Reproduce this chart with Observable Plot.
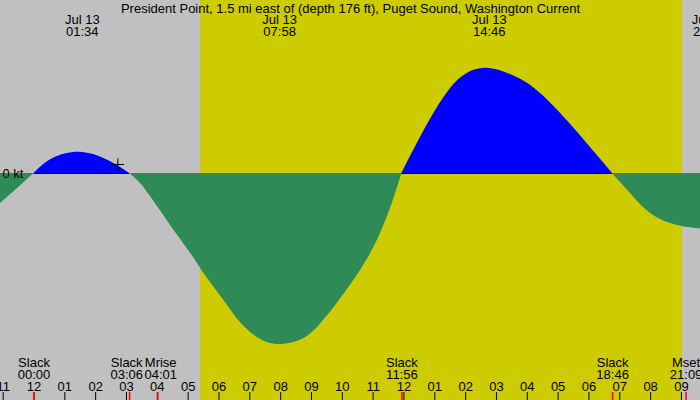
<!DOCTYPE html>
<html>
<head>
<meta charset="utf-8">
<script src="https://cdn.jsdelivr.net/npm/d3@7"></script>
<script src="https://cdn.jsdelivr.net/npm/@observablehq/plot@0.6"></script>
<style>
  html, body { margin: 0; padding: 0; overflow: hidden; background: #c0c0c0; }
  #chart svg { display: block; }
</style>
</head>
<body>
<div id="chart"></div>
<script>
// ---- Data (hours relative to midnight, Jul 13; current in knots) ----
const title = "President Point, 1.5 mi east of (depth 176 ft), Puget Sound, Washington Current";
const dateLabel = "Jul 13";

const currentTimes = [-1.087, -0.535, 0, 0.62, 1.567, 2.47, 3.1,
  3.51, 4.05, 4.59, 5.13, 5.56, 6.21, 6.64, 7.24, 7.967, 8.81, 9.39, 9.83, 10.59, 11.18, 11.62, 11.933,
  12.43, 12.97, 13.51, 14.05, 14.767, 15.67, 16.43, 17.29, 18.05, 18.767,
  19.02, 19.35, 19.67, 20.0, 20.32, 20.65, 21.02, 21.618];
const currentKnots = [-0.30, -0.15, 0, 0.15, 0.21, 0.12, 0,
  -0.12, -0.35, -0.59, -0.82, -1.02, -1.29, -1.47, -1.64, -1.71, -1.64, -1.47, -1.30, -0.97, -0.64, -0.30, 0,
  0.30, 0.60, 0.85, 1.00, 1.05, 0.96, 0.80, 0.53, 0.26, 0,
  -0.09, -0.20, -0.31, -0.40, -0.46, -0.50, -0.53, -0.555];

const extremeTimes = [1.567, 7.967, 14.767, 21.9];
const extremeLabels = ["01:34", "07:58", "14:46", "21:54"];

const eventNames = ["Slack", "Slack", "Mrise", "Slack", "Slack", "Mset"];
const eventTimes = [0, 3.1, 4.017, 11.933, 18.767, 21.15];
const eventLabels = ["00:00", "03:06", "04:01", "11:56", "18:46", "21:09"];

const hourTicks = [-1, 0, 1, 2, 3, 4, 5, 6, 7, 8, 9, 10, 11, 12, 13, 14, 15, 16, 17, 18, 19, 20, 21];
const hourLabels = ["11", "12", "01", "02", "03", "04", "05", "06", "07", "08", "09", "10", "11",
  "12", "01", "02", "03", "04", "05", "06", "07", "08", "09"];

const sunrise = 5.40, sunset = 21.03;
const nowTime = 2.72, nowKnots = 0.09;

const xDomain = [-1.0866, 21.618];
const yDomain = [-2.27, 1.73];
const W = 700, H = 400;

// ---- Build half-cycle segments split at slack points ----
const rows = [];
let seg = 0;
for (let i = 0; i < currentTimes.length; i++) {
  const t = currentTimes[i], v = currentKnots[i];
  rows.push({t, v, seg});
  if (v === 0 && i > 0 && i < currentTimes.length - 1) {
    seg++;
    rows.push({t, v, seg});
  }
}
const segKind = {};
for (const r of rows) if (r.v !== 0) segKind[r.seg] = r.v > 0 ? "flood" : "ebb";
rows.forEach(r => r.kind = segKind[r.seg]);
const floodSegs = d3.groups(rows.filter(r => r.kind === "flood"), r => r.seg)
  .map(([s, pts]) => ({start: d3.min(pts, p => p.t), end: d3.max(pts, p => p.t)}));

// ---- Event labels with simple overlap avoidance ----
const pxPerH = W / (xDomain[1] - xDomain[0]);
const minSep = 34;
const events = eventTimes.map((t, i) => ({t, name: eventNames[i], label: eventLabels[i], px: (t - xDomain[0]) * pxPerH}));
for (let i = 1; i < events.length; i++) {
  const gap = events[i].px - events[i - 1].px;
  if (gap < minSep) {
    const s = (minSep - gap) / 2;
    events[i - 1].px -= s;
    events[i].px += s;
  }
}
events.forEach(e => e.tx = xDomain[0] + e.px / pxPerH);

const extremes = extremeTimes.map((t, i) => ({t, label: extremeLabels[i]}));
const hours = hourTicks.map((h, i) => ({h, label: hourLabels[i]}));

const font = "'Liberation Sans', Arial, Helvetica, sans-serif";

const chart = Plot.plot({
  width: W,
  height: H,
  margin: 0,
  x: {domain: xDomain, axis: null},
  y: {domain: yDomain, axis: null},
  color: {domain: ["flood", "ebb"], range: ["#0000ff", "#2e8b57"]},
  style: {background: "#c0c0c0", fontFamily: font, fontSize: "13px", overflow: "hidden", color: "black"},
  marks: [
    Plot.rect([{start: sunrise, end: sunset}], {x1: "start", x2: "end", fill: "#cccc00"}),
    Plot.areaY(rows, {x: "t", y1: 0, y2: "v", z: "seg", fill: "kind", curve: "natural"}),
    Plot.ruleY(floodSegs, {y: 0, x1: "start", x2: "end", stroke: "black", strokeWidth: 1}),
    Plot.dot([{t: nowTime, v: nowKnots}], {x: "t", y: "v", symbol: "plus", r: 4, stroke: "black", strokeWidth: 1}),
    Plot.text(["0 kt"], {x: xDomain[0], y: 0, text: d => d, textAnchor: "start", dx: 2, fill: "black", fontSize: 13}),
    // title and extreme labels
    Plot.text([title], {frameAnchor: "top", text: d => d, dy: 8, lineAnchor: "middle", fill: "black", fontSize: 13}),
    Plot.text(extremes, {x: "t", frameAnchor: "top", text: () => dateLabel, dy: 19, lineAnchor: "middle", fill: "black", fontSize: 13}),
    Plot.text(extremes, {x: "t", frameAnchor: "top", text: "label", dy: 31, lineAnchor: "middle", fill: "black", fontSize: 13}),
    // bottom event labels
    Plot.text(events, {x: "tx", frameAnchor: "bottom", text: "name", dy: -38, lineAnchor: "middle", fill: "black", fontSize: 13}),
    Plot.text(events, {x: "tx", frameAnchor: "bottom", text: "label", dy: -26, lineAnchor: "middle", fill: "black", fontSize: 13}),
    // hour ticks
    Plot.text(hours, {x: "h", frameAnchor: "bottom", text: "label", dy: -14, lineAnchor: "middle", fill: "black", fontSize: 13}),
    Plot.ruleX(hours, {x: "h", insetTop: 392, stroke: "black", strokeWidth: 1}),
    Plot.ruleX(events, {x: "t", insetTop: 392, stroke: "#ff0000", strokeWidth: 1.5})
  ]
});
document.getElementById("chart").appendChild(chart);
</script>
</body>
</html>
